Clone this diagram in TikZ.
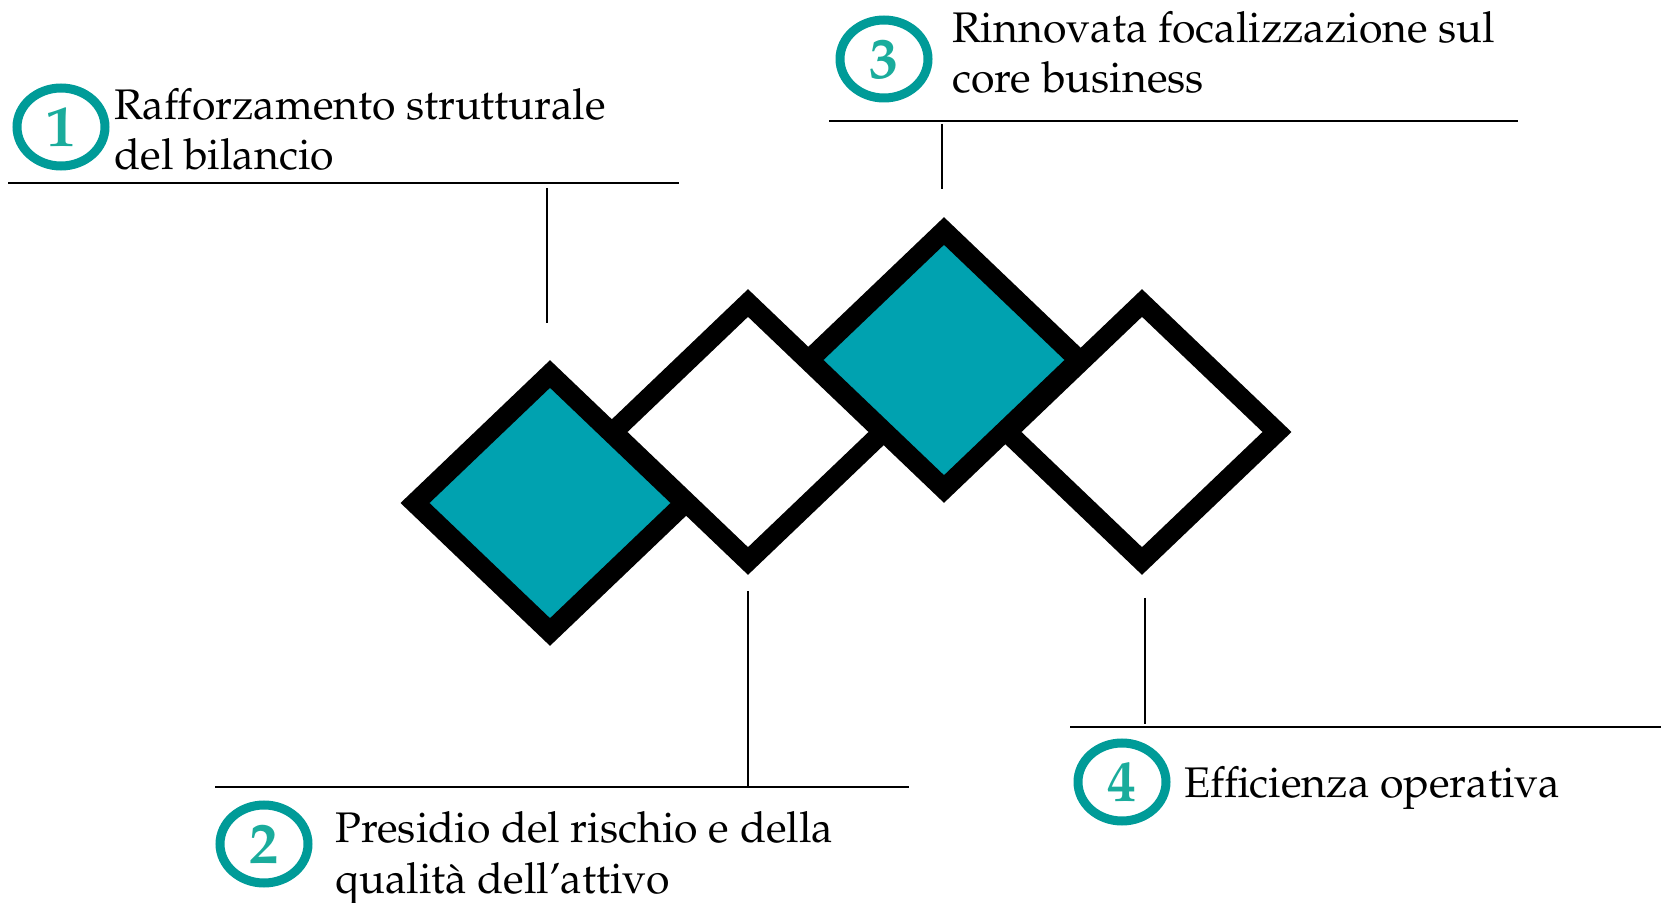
\documentclass[tikz,border=0pt]{standalone}
\usepackage[T1]{fontenc}
\usepackage{mathpazo}
\usetikzlibrary{shapes.geometric}
\definecolor{boxteal}{RGB}{0,162,176}
\definecolor{ringteal}{RGB}{0,155,152}
\definecolor{numteal}{RGB}{26,172,156}

\begin{document}
\begin{tikzpicture}[x=0.5pt, y=-0.5pt,
  numring/.style={ellipse, draw=ringteal, line width=4.5pt, inner sep=0pt,
    minimum width=44pt, minimum height=39pt, text=numteal,
    font=\fontsize{29}{29}\selectfont\bfseries},
  goaltext/.style={anchor=base west, align=left, inner sep=0pt,
    font=\fontsize{21.4}{25.4}\selectfont},
  rule/.style={line width=1pt},
  tile/.style={draw=black, line width=10pt, miter limit=10}]
\useasboundingbox (0,0) rectangle (1661,903);

% the four tiles
\draw[tile, fill=boxteal] (550,374) -- (685,503) -- (550,632) -- (415,503) -- cycle;
\draw[tile, fill=white] (748,303) -- (883,432) -- (748,561) -- (613,432) -- cycle;
\draw[tile, fill=boxteal] (944,231) -- (1079,360) -- (944,489) -- (809,360) -- cycle;
\draw[tile, fill=white] (1142,303) -- (1277,432) -- (1142,561) -- (1007,432) -- cycle;

% goals
\node[numring] (n1) at (61,127) {1};
\node[goaltext] (t1) at (114,170) {Rafforzamento strutturale\\del bilancio};
\node[numring] (n2) at (264,844) {2};
\node[goaltext] (t2) at (335,893) {Presidio del rischio e della\\qualit\`a dell'attivo};
\node[numring] (n3) at (884,59) {3};
\node[goaltext] (t3) at (952,93) {Rinnovata focalizzazione sul\\core business};
\node[numring] (n4) at (1122,782) {4};
\node[goaltext] (t4) at (1184,797) {Efficienza operativa};

% rules and leaders
\coordinate (r1a) at (8,183);
\coordinate (r1b) at (679,183);
\coordinate (v1a) at (547,188);
\coordinate (v1b) at (547,323);
\coordinate (r2a) at (215,787);
\coordinate (r2b) at (909,787);
\coordinate (v2a) at (748,591);
\coordinate (v2b) at (748,787);
\coordinate (r3a) at (829,121);
\coordinate (r3b) at (1518,121);
\coordinate (v3a) at (942,124);
\coordinate (v3b) at (942,189);
\coordinate (r4a) at (1070,727);
\coordinate (r4b) at (1661,727);
\coordinate (v4a) at (1145,598);
\coordinate (v4b) at (1145,724);
\draw[rule] (r1a) -- (r1b);
\draw[rule] (v1a) -- (v1b);
\draw[rule] (r2a) -- (r2b);
\draw[rule] (v2a) -- (v2b);
\draw[rule] (r3a) -- (r3b);
\draw[rule] (v3a) -- (v3b);
\draw[rule] (r4a) -- (r4b);
\draw[rule] (v4a) -- (v4b);
\end{tikzpicture}
\end{document}
